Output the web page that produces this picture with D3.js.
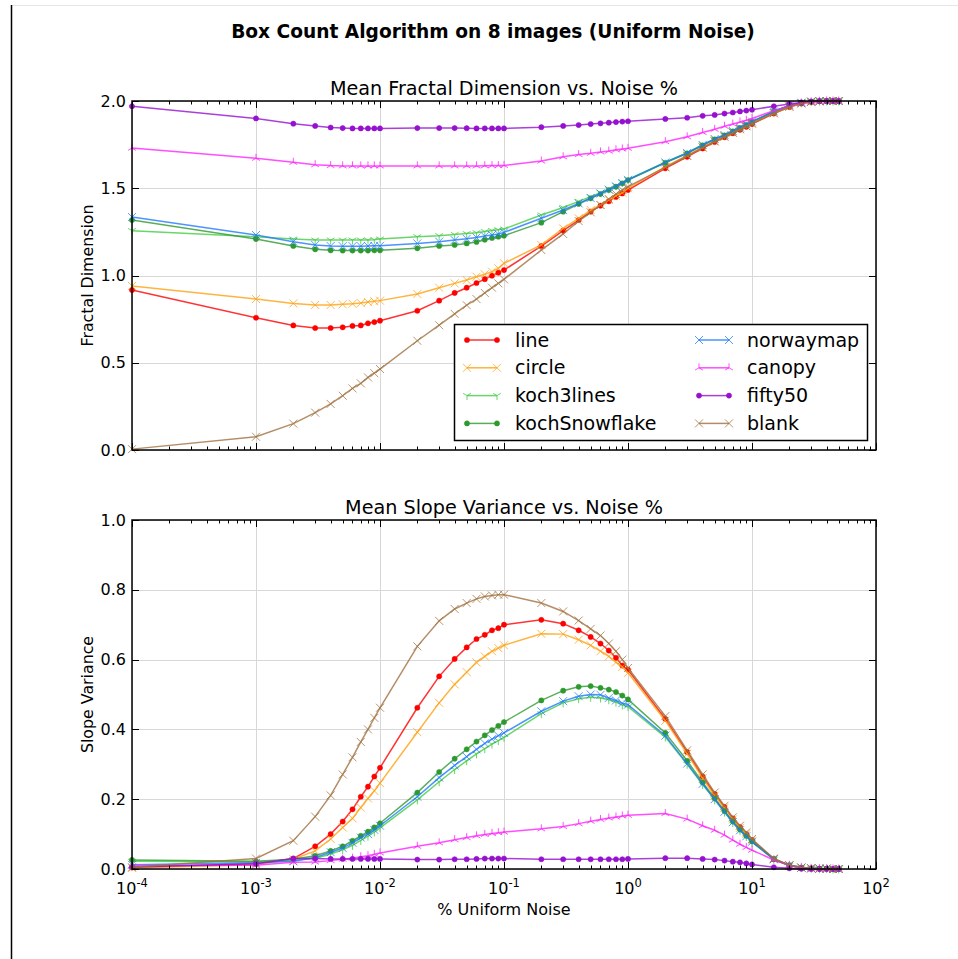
<!DOCTYPE html>
<html>
<head>
<meta charset="utf-8">
<title>Box Count Algorithm</title>
<script src="https://d3js.org/d3.v7.min.js"></script>
<style>
  body { margin: 0; background: #fff; }
  svg text { font-family: "DejaVu Sans", sans-serif; fill: #000; }
</style>
</head>
<body>
<div id="chartDiv"></div>
<script>
// noise levels (% uniform noise)
var noise = [0.0001,
  0.001, 0.002, 0.003, 0.004, 0.005, 0.006, 0.007, 0.008, 0.009,
  0.01, 0.02, 0.03, 0.04, 0.05, 0.06, 0.07, 0.08, 0.09,
  0.1, 0.2, 0.3, 0.4, 0.5, 0.6, 0.7, 0.8, 0.9,
  1, 2, 3, 4, 5, 6, 7, 8, 9,
  10, 15, 20, 25, 30, 35, 40, 45, 50];

var seriesNames = ["line", "circle", "koch3lines", "kochSnowflake", "norwaymap", "canopy", "fifty50", "blank"];

// mean fractal dimension
var fdLine = [0.917,
  0.758, 0.714, 0.699, 0.699, 0.703, 0.711, 0.714, 0.726, 0.733,
  0.741, 0.798, 0.856, 0.90, 0.93, 0.957, 0.979, 0.999, 1.016,
  1.031, 1.169, 1.257, 1.318, 1.366, 1.40, 1.425, 1.45, 1.47,
  1.49, 1.614, 1.68, 1.728, 1.765, 1.792, 1.815, 1.835, 1.852,
  1.868, 1.928, 1.965, 1.985, 1.994, 1.998, 2.0, 2.0, 2.0];
var fdCircle = [0.94,
  0.865, 0.84, 0.831, 0.831, 0.835, 0.838, 0.842, 0.848, 0.852,
  0.856, 0.894, 0.93, 0.955, 0.974, 0.993, 1.007, 1.022, 1.041,
  1.07, 1.175, 1.27, 1.328, 1.375, 1.404, 1.433, 1.456, 1.474,
  1.50, 1.624, 1.688, 1.735, 1.77, 1.797, 1.82, 1.84, 1.857,
  1.873, 1.93, 1.967, 1.986, 1.995, 1.998, 2.0, 2.0, 2.0];
var fdKoch3 = [1.257,
  1.222, 1.209, 1.203, 1.203, 1.203, 1.203, 1.203, 1.203, 1.205,
  1.209, 1.222, 1.228, 1.235, 1.24, 1.245, 1.252, 1.258, 1.262,
  1.266, 1.347, 1.39, 1.425, 1.452, 1.475, 1.496, 1.515, 1.533,
  1.55, 1.65, 1.704, 1.75, 1.783, 1.806, 1.83, 1.848, 1.866,
  1.882, 1.94, 1.975, 1.99, 1.997, 2.0, 2.0, 2.0, 2.0];
var fdSnow = [1.318,
  1.209, 1.169, 1.15, 1.144, 1.143, 1.143, 1.143, 1.143, 1.144,
  1.144, 1.156, 1.169, 1.175, 1.184, 1.192, 1.205, 1.215, 1.222,
  1.228, 1.303, 1.366, 1.41, 1.442, 1.467, 1.49, 1.509, 1.528,
  1.547, 1.646, 1.70, 1.746, 1.78, 1.803, 1.826, 1.846, 1.864,
  1.88, 1.94, 1.975, 1.99, 1.997, 2.0, 2.0, 2.0, 2.0];
var fdNorway = [1.335,
  1.232, 1.194, 1.175, 1.169, 1.168, 1.168, 1.168, 1.169, 1.17,
  1.17, 1.184, 1.194, 1.203, 1.21, 1.218, 1.226, 1.232, 1.238,
  1.247, 1.328, 1.375, 1.413, 1.444, 1.47, 1.492, 1.511, 1.53,
  1.548, 1.648, 1.702, 1.748, 1.782, 1.805, 1.828, 1.848, 1.866,
  1.882, 1.94, 1.975, 1.99, 1.997, 2.0, 2.0, 2.0, 2.0];
var fdCanopy = [1.73,
  1.672, 1.649, 1.635, 1.63, 1.628, 1.628, 1.628, 1.628, 1.628,
  1.628, 1.628, 1.628, 1.628, 1.628, 1.628, 1.629, 1.63, 1.63,
  1.631, 1.656, 1.68, 1.693, 1.70, 1.708, 1.713, 1.72, 1.725,
  1.729, 1.767, 1.795, 1.82, 1.838, 1.855, 1.868, 1.88, 1.89,
  1.90, 1.945, 1.972, 1.988, 1.995, 1.998, 2.0, 2.0, 2.0];
var fdFifty = [1.97,
  1.90, 1.87, 1.857, 1.848, 1.845, 1.843, 1.843, 1.843, 1.843,
  1.843, 1.845, 1.845, 1.845, 1.844, 1.843, 1.843, 1.843, 1.843,
  1.843, 1.85, 1.857, 1.862, 1.868, 1.872, 1.876, 1.879, 1.882,
  1.884, 1.897, 1.904, 1.915, 1.92, 1.928, 1.934, 1.94, 1.945,
  1.95, 1.97, 1.983, 1.992, 1.997, 2.0, 2.0, 2.0, 2.0];
var fdBlank = [0.005,
  0.076, 0.151, 0.214, 0.264, 0.311, 0.353, 0.382, 0.416, 0.44,
  0.464, 0.626, 0.715, 0.78, 0.83, 0.865, 0.90, 0.93, 0.955,
  0.978, 1.146, 1.238, 1.312, 1.362, 1.404, 1.438, 1.467, 1.49,
  1.509, 1.62, 1.685, 1.733, 1.768, 1.795, 1.818, 1.838, 1.855,
  1.87, 1.93, 1.967, 1.986, 1.995, 1.998, 2.0, 2.0, 2.0];

// mean slope variance
var svLine = [0.004,
  0.015, 0.03, 0.065, 0.10, 0.136, 0.171, 0.207, 0.236, 0.265,
  0.29, 0.462, 0.552, 0.602, 0.635, 0.659, 0.671, 0.684, 0.69,
  0.70, 0.714, 0.703, 0.684, 0.665, 0.646, 0.626, 0.605, 0.583,
  0.571, 0.43, 0.335, 0.265, 0.215, 0.178, 0.145, 0.12, 0.1,
  0.083, 0.028, 0.01, 0.004, 0.002, 0.001, 0.001, 0.0, 0.0];
var svCircle = [0.003,
  0.012, 0.028, 0.052, 0.086, 0.119, 0.145, 0.176, 0.202, 0.224,
  0.246, 0.392, 0.476, 0.529, 0.564, 0.592, 0.609, 0.624, 0.633,
  0.641, 0.674, 0.673, 0.657, 0.641, 0.624, 0.609, 0.592, 0.579,
  0.562, 0.425, 0.33, 0.26, 0.21, 0.175, 0.142, 0.118, 0.1,
  0.082, 0.028, 0.01, 0.004, 0.002, 0.001, 0.001, 0.0, 0.0];
var svKoch3 = [0.022,
  0.02, 0.025, 0.03, 0.043, 0.055, 0.068, 0.082, 0.094, 0.106,
  0.118, 0.198, 0.25, 0.285, 0.31, 0.33, 0.345, 0.358, 0.368,
  0.377, 0.445, 0.476, 0.488, 0.492, 0.49, 0.485, 0.478, 0.47,
  0.465, 0.378, 0.3, 0.242, 0.198, 0.163, 0.133, 0.11, 0.093,
  0.077, 0.028, 0.01, 0.004, 0.002, 0.001, 0.001, 0.0, 0.0];
var svSnow = [0.026,
  0.022, 0.028, 0.038, 0.052, 0.065, 0.081, 0.095, 0.107, 0.119,
  0.131, 0.219, 0.278, 0.316, 0.343, 0.365, 0.383, 0.398, 0.41,
  0.421, 0.483, 0.511, 0.522, 0.524, 0.519, 0.514, 0.507, 0.497,
  0.486, 0.39, 0.31, 0.248, 0.202, 0.166, 0.136, 0.113, 0.095,
  0.079, 0.029, 0.011, 0.004, 0.002, 0.001, 0.001, 0.0, 0.0];
var svNorway = [0.012,
  0.018, 0.022, 0.033, 0.048, 0.06, 0.075, 0.09, 0.1, 0.112,
  0.124, 0.207, 0.262, 0.297, 0.322, 0.343, 0.36, 0.372, 0.382,
  0.39, 0.452, 0.481, 0.495, 0.50, 0.499, 0.49, 0.483, 0.475,
  0.471, 0.382, 0.302, 0.244, 0.2, 0.164, 0.134, 0.111, 0.094,
  0.078, 0.028, 0.01, 0.004, 0.002, 0.001, 0.001, 0.0, 0.0];
var svCanopy = [0.01,
  0.011, 0.019, 0.02, 0.024, 0.028, 0.031, 0.035, 0.038, 0.042,
  0.046, 0.065, 0.075, 0.084, 0.09, 0.095, 0.099, 0.102, 0.104,
  0.106, 0.115, 0.122, 0.13, 0.137, 0.142, 0.146, 0.149, 0.152,
  0.154, 0.159, 0.143, 0.124, 0.111, 0.097, 0.083, 0.071, 0.062,
  0.054, 0.026, 0.011, 0.005, 0.002, 0.001, 0.001, 0.0, 0.0];
var svFifty = [0.006,
  0.015, 0.03, 0.03, 0.029, 0.029, 0.029, 0.029, 0.029, 0.029,
  0.029, 0.027, 0.027, 0.028, 0.028, 0.029, 0.03, 0.03, 0.03,
  0.03, 0.028, 0.028, 0.028, 0.028, 0.028, 0.028, 0.028, 0.028,
  0.029, 0.031, 0.031, 0.029, 0.027, 0.024, 0.021, 0.019, 0.016,
  0.013, 0.005, 0.002, 0.001, 0.0, 0.0, 0.0, 0.0, 0.0];
var svBlank = [0.005,
  0.03, 0.081, 0.15, 0.211, 0.271, 0.32, 0.364, 0.40, 0.433,
  0.462, 0.638, 0.711, 0.745, 0.762, 0.774, 0.781, 0.784, 0.786,
  0.786, 0.762, 0.738, 0.712, 0.688, 0.669, 0.646, 0.624, 0.60,
  0.576, 0.438, 0.34, 0.271, 0.219, 0.181, 0.148, 0.124, 0.105,
  0.086, 0.03, 0.011, 0.004, 0.002, 0.001, 0.001, 0.0, 0.0];

var fdValues = [fdLine, fdCircle, fdKoch3, fdSnow, fdNorway, fdCanopy, fdFifty, fdBlank];
var svValues = [svLine, svCircle, svKoch3, svSnow, svNorway, svCanopy, svFifty, svBlank];

var xTicks = [1e-4, 1e-3, 1e-2, 1e-1, 1e0, 1e1, 1e2];
var xTickExp = ["-4", "-3", "-2", "-1", "0", "1", "2"];
var fdTicks = [0.0, 0.5, 1.0, 1.5, 2.0];
var svTicks = [0.0, 0.2, 0.4, 0.6, 0.8, 1.0];

var colors = ["#ff0000", "#ffa010", "#44cc44", "#2e9a2e", "#1e78ff", "#ff22ff", "#9510cf", "#a0703e"];
var markers = ["dot", "x", "tri_down", "dot", "x", "tri_up", "dot", "x"];

var W = 958, H = 959;
var left = 132, right = 876;

var svg = d3.select('#chartDiv')
  .append('svg')
  .attr('width', W)
  .attr('height', H);

// frame lines of the figure
svg.append('line').attr('x1', 11).attr('x2', W).attr('y1', 5.5).attr('y2', 5.5)
  .attr('stroke', '#e6e6e6').attr('stroke-width', 1);
svg.append('line').attr('x1', 11.5).attr('x2', 11.5).attr('y1', 5).attr('y2', H)
  .attr('stroke', '#000').attr('stroke-width', 1.5);

svg.append('text')
  .attr('x', 493).attr('y', 38)
  .attr('text-anchor', 'middle')
  .style('font-size', '18.6px').style('font-weight', 'bold')
  .text('Box Count Algorithm on 8 images (Uniform Noise)');

var x = d3.scaleLog().domain([1e-4, 1e2]).range([left, right]);

function drawMarker(g, type, cx, cy, color) {
  if (type == "dot") {
    g.append('circle').attr('cx', cx).attr('cy', cy).attr('r', 2.6)
      .attr('fill', color).attr('stroke', color).attr('stroke-width', 0.5);
  } else if (type == "x") {
    var s = 4;
    g.append('path')
      .attr('d', 'M' + (cx - s) + ',' + (cy - s) + 'L' + (cx + s) + ',' + (cy + s) +
                 'M' + (cx - s) + ',' + (cy + s) + 'L' + (cx + s) + ',' + (cy - s))
      .attr('stroke', color).attr('stroke-width', 1).attr('fill', 'none').attr('opacity', 0.75);
  } else {
    var r = 4.5, dir = type == "tri_down" ? 1 : -1;
    g.append('path')
      .attr('d', 'M' + cx + ',' + cy + 'L' + cx + ',' + (cy + dir * r) +
                 'M' + cx + ',' + cy + 'L' + (cx - r * 0.866) + ',' + (cy - dir * r / 2) +
                 'M' + cx + ',' + cy + 'L' + (cx + r * 0.866) + ',' + (cy - dir * r / 2))
      .attr('stroke', color).attr('stroke-width', 1).attr('fill', 'none').attr('opacity', 0.8);
  }
}

function drawPanel(top, bottom, yMax, yTicks, values, title, ylabel, showX) {
  var y = d3.scaleLinear().domain([0, yMax]).range([bottom, top]);
  var g = svg.append('g');

  // grid
  g.selectAll('.gx').data(xTicks).enter().append('line')
    .attr('x1', function (d) { return Math.round(x(d)) + 0.5; })
    .attr('x2', function (d) { return Math.round(x(d)) + 0.5; })
    .attr('y1', top).attr('y2', bottom)
    .attr('stroke', '#d8d8d8').attr('stroke-width', 1);
  g.selectAll('.gy').data(yTicks).enter().append('line')
    .attr('x1', left).attr('x2', right)
    .attr('y1', function (d) { return Math.round(y(d)) + 0.5; })
    .attr('y2', function (d) { return Math.round(y(d)) + 0.5; })
    .attr('stroke', '#d8d8d8').attr('stroke-width', 1);

  // series
  var line = d3.line()
    .x(function (d, i) { return x(noise[i]); })
    .y(function (d) { return y(d); });
  values.forEach(function (vals, k) {
    var sg = g.append('g');
    sg.append('path').datum(vals)
      .attr('d', line)
      .attr('fill', 'none')
      .attr('stroke', colors[k])
      .attr('stroke-width', 1.5)
      .attr('opacity', 0.8);
    vals.forEach(function (v, i) {
      drawMarker(sg, markers[k], x(noise[i]), y(v), colors[k]);
    });
  });

  // ticks, inward on all sides
  var minor = [];
  for (var e = -4; e < 2; e++) {
    for (var m = 2; m < 10; m++) minor.push(m * Math.pow(10, e));
  }
  var tg = g.append('g').attr('stroke', '#000').attr('stroke-width', 1);
  xTicks.forEach(function (d) {
    var px = Math.round(x(d)) + 0.5;
    tg.append('line').attr('x1', px).attr('x2', px).attr('y1', bottom).attr('y2', bottom - 7);
    tg.append('line').attr('x1', px).attr('x2', px).attr('y1', top).attr('y2', top + 7);
  });
  minor.forEach(function (d) {
    var px = Math.round(x(d)) + 0.5;
    tg.append('line').attr('x1', px).attr('x2', px).attr('y1', bottom).attr('y2', bottom - 3.5);
    tg.append('line').attr('x1', px).attr('x2', px).attr('y1', top).attr('y2', top + 3.5);
  });
  yTicks.forEach(function (d) {
    var py = Math.round(y(d)) + 0.5;
    tg.append('line').attr('x1', left).attr('x2', left + 7).attr('y1', py).attr('y2', py);
    tg.append('line').attr('x1', right).attr('x2', right - 7).attr('y1', py).attr('y2', py);
  });

  // frame
  g.append('rect')
    .attr('x', left).attr('y', top)
    .attr('width', right - left).attr('height', bottom - top)
    .attr('fill', 'none').attr('stroke', '#000').attr('stroke-width', 1.5);

  // y tick labels
  g.selectAll('.yl').data(yTicks).enter().append('text')
    .attr('x', left - 6)
    .attr('y', function (d) { return y(d) + 5.5; })
    .attr('text-anchor', 'end')
    .style('font-size', '16px')
    .text(function (d) { return d.toFixed(1); });

  if (showX) {
    xTicks.forEach(function (d, i) {
      var t = g.append('text')
        .attr('x', x(d)).attr('y', bottom + 25)
        .attr('text-anchor', 'middle')
        .style('font-size', '16px');
      t.append('tspan').text('10');
      t.append('tspan').attr('dy', -7.5).style('font-size', '11.5px').text(xTickExp[i]);
    });
    g.append('text')
      .attr('x', (left + right) / 2).attr('y', bottom + 46)
      .attr('text-anchor', 'middle')
      .style('font-size', '16px')
      .text('% Uniform Noise');
  }

  g.append('text')
    .attr('x', (left + right) / 2).attr('y', top - 6)
    .attr('text-anchor', 'middle')
    .style('font-size', '19.2px')
    .text(title);

  g.append('text')
    .attr('transform', 'translate(' + 93 + ',' + ((top + bottom) / 2) + ') rotate(-90)')
    .attr('text-anchor', 'middle')
    .style('font-size', '15.8px')
    .text(ylabel);
}

drawPanel(101, 450, 2.0, fdTicks, fdValues, 'Mean Fractal Dimension vs. Noise %', 'Fractal Dimension', false);
drawPanel(520, 869, 1.0, svTicks, svValues, 'Mean Slope Variance vs. Noise %', 'Slope Variance', true);

// legend in the top panel
var lg = svg.append('g');
lg.append('rect')
  .attr('x', 454.5).attr('y', 324.5).attr('width', 413).attr('height', 116)
  .attr('fill', '#fff').attr('stroke', '#000').attr('stroke-width', 1.5);
seriesNames.forEach(function (name, k) {
  var col = Math.floor(k / 4), row = k % 4;
  var x0 = col == 0 ? 467 : 699;
  var yy = 340 + row * 27.8;
  lg.append('line').attr('x1', x0).attr('x2', x0 + 30).attr('y1', yy).attr('y2', yy)
    .attr('stroke', colors[k]).attr('stroke-width', 1.5).attr('opacity', 0.8);
  drawMarker(lg, markers[k], x0, yy, colors[k]);
  drawMarker(lg, markers[k], x0 + 30, yy, colors[k]);
  lg.append('text')
    .attr('x', col == 0 ? 515 : 747).attr('y', yy + 6.5)
    .style('font-size', '19px')
    .text(name);
});
</script>
</body>
</html>
